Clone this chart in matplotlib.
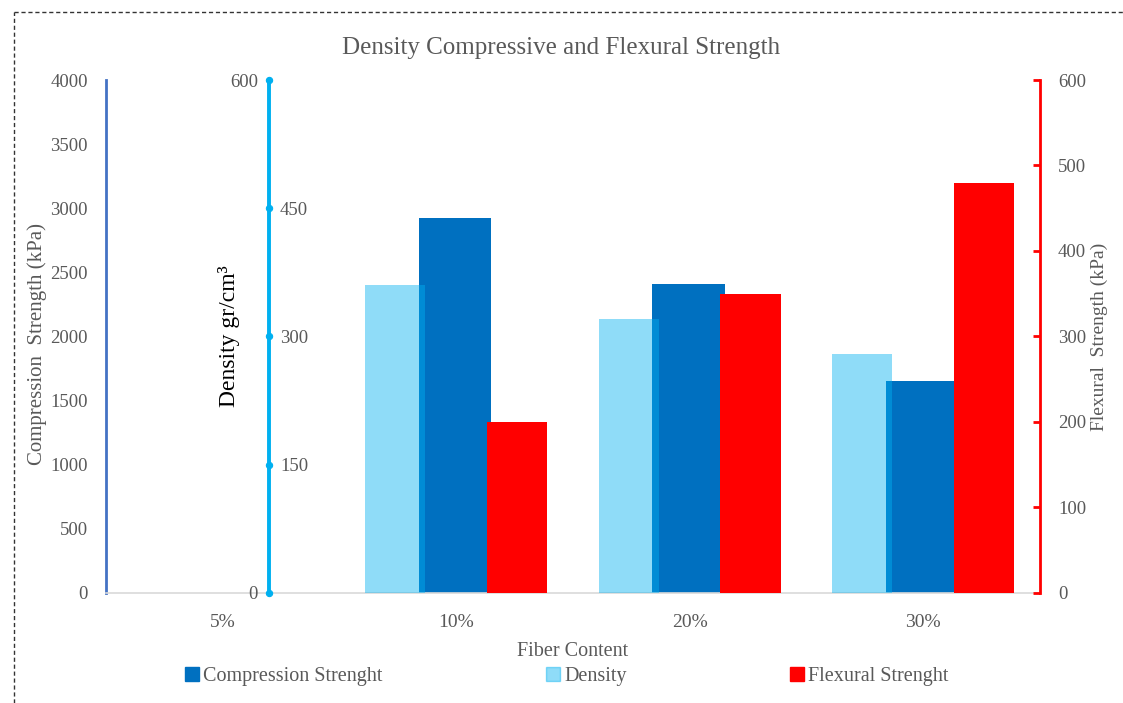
import matplotlib
matplotlib.use("Agg")
import matplotlib.pyplot as plt
import numpy as np
from matplotlib.lines import Line2D
from matplotlib.patches import Patch

plt.rcParams['font.family'] = ['Liberation Serif', 'DejaVu Serif']

# data
fiber_content = ['5%', '10%', '20%', '30%']
compression = [0, 2925, 2410, 1650]      # kPa
density = [0, 360, 320, 280]             # gr/cm3
flexural = [0, 200, 350, 480]            # kPa

comp_ticks = [0, 500, 1000, 1500, 2000, 2500, 3000, 3500, 4000]
dens_ticks = [0, 150, 300, 450, 600]
flex_ticks = [0, 100, 200, 300, 400, 500, 600]

GREY = '#595959'
C_COMP = '#0070C0'
C_DENS = '#00B0F0'
C_FLEX = '#FF0000'
FS = 14

fig = plt.figure(figsize=(11.23, 7.03), dpi=100)
ax = fig.add_axes([0.0944, 0.1565, 0.8317, 0.7297])
ax_d = ax.twinx()
ax_f = ax.twinx()

x = np.arange(len(fiber_content))

# compression bars (bottom layer)
ax.bar(x - 0.005, compression, width=0.31, color=C_COMP, zorder=2)
ax.set_xlim(-0.5, 3.5)
ax.set_ylim(0, 4000)
ax.set_yticks(comp_ticks)
ax.set_xticks(x)
ax.set_xticklabels(fiber_content)
for s in ['top', 'right']:
    ax.spines[s].set_visible(False)
ax.spines['left'].set_color('#4472C4')
ax.spines['left'].set_linewidth(2)
ax.spines['bottom'].set_color('#D9D9D9')
ax.spines['bottom'].set_linewidth(1.2)
ax.tick_params(axis='y', length=0, pad=13, labelsize=13.5, labelcolor=GREY)
ax.tick_params(axis='x', length=0, pad=15, labelsize=FS, labelcolor=GREY)
ax.set_ylabel('Compression  Strength (kPa)', fontsize=15, color=GREY)
ax.yaxis.set_label_coords(-0.063, 0.485)
ax.set_xlabel('Fiber Content', fontsize=14.5, color=GREY, labelpad=8)

# density bars, semi-transparent on top of compression
ax_d.bar(x - 0.262, density, width=0.257, color=C_DENS, alpha=0.44, zorder=2)
ax_d.set_ylim(0, 600)
ax_d.set_yticks(dens_ticks)
for s in ['top', 'bottom']:
    ax_d.spines[s].set_visible(False)
dpos = 0.1745
ax_d.spines['left'].set_position(('axes', dpos))
ax_d.spines['left'].set_visible(True)
ax_d.spines['left'].set_color(C_DENS)
ax_d.spines['left'].set_linewidth(2.8)
ax_d.spines['right'].set_position(('axes', dpos))
ax_d.spines['right'].set_visible(False)
ax_d.tick_params(axis='y', left=True, right=False, labelleft=True,
                 labelright=True, length=0, pad=8, labelsize=13.5,
                 labelcolor=GREY)
for t, v in zip(ax_d.yaxis.get_major_ticks(), dens_ticks):
    t.tick1line.set_marker('o')
    t.tick1line.set_markersize(4.5)
    t.tick1line.set_color(C_DENS)
    t.tick1line.set_markeredgecolor(C_DENS)
    on_left = v in (0, 600)
    t.label1.set_visible(on_left)
    t.label2.set_visible(not on_left)
ax_d.set_ylabel('Density gr/cm³', fontsize=17, color='black')
ax_d.yaxis.set_label_position('left')
ax_d.yaxis.set_label_coords(0.1435, 0.5)

# flexural bars
ax_f.bar(x + 0.26, flexural, width=0.26, color=C_FLEX, zorder=2)
ax_f.set_ylim(0, 600)
ax_f.set_yticks(flex_ticks)
for s in ['top', 'bottom', 'left']:
    ax_f.spines[s].set_visible(False)
ax_f.spines['right'].set_color(C_FLEX)
ax_f.spines['right'].set_linewidth(2)
ax_f.tick_params(axis='y', direction='in', length=5, width=2, color=C_FLEX,
                 pad=13, labelsize=13.5, labelcolor=GREY)
ax_f.set_ylabel('Flexural  Strength (kPa)', fontsize=14, color=GREY)
ax_f.yaxis.set_label_coords(1.0546, 0.5)

fig.suptitle('Density Compressive and Flexural Strength', y=0.948,
             fontsize=18, color=GREY)

handles = [Patch(color=C_COMP), Patch(color=C_DENS, alpha=0.44),
           Patch(color=C_FLEX)]
labels = ['Compression Strenght', 'Density', 'Flexural Strenght']
fig.legend(handles, labels, loc='center left', bbox_to_anchor=(0.165, 0.038),
           ncol=3, frameon=False, fontsize=14.5, labelcolor=GREY,
           handlelength=0.7, handleheight=0.7, handletextpad=0.2,
           columnspacing=8.1, borderaxespad=0, borderpad=0)

# dashed frame around the figure
fig.add_artist(Line2D([14 / 1123, 1], [1 - 12 / 703] * 2,
                      transform=fig.transFigure, color='#333333', lw=1,
                      ls=(0, (3, 2))))
fig.add_artist(Line2D([14 / 1123] * 2, [0, 1 - 12 / 703],
                      transform=fig.transFigure, color='#333333', lw=1,
                      ls=(0, (3, 2))))

fig.savefig('out.png', dpi=100)
